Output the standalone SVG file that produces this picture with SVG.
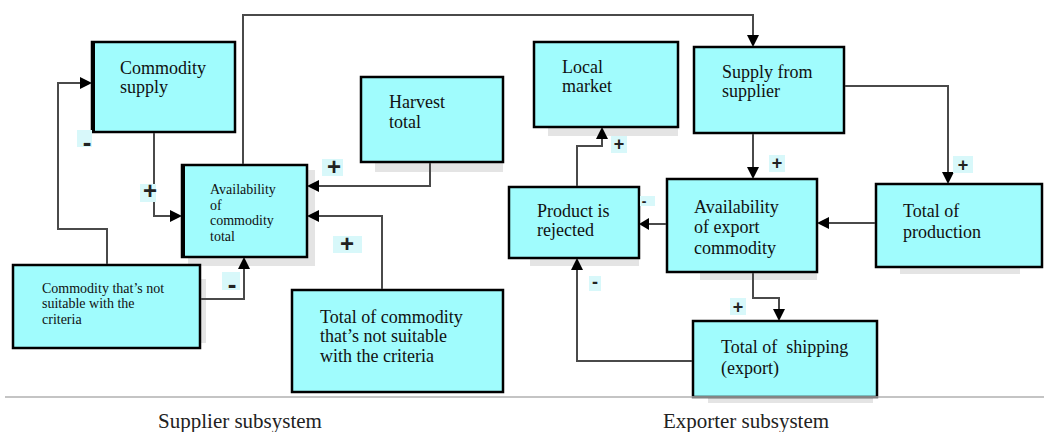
<svg xmlns="http://www.w3.org/2000/svg" width="1044" height="432" viewBox="0 0 1044 432">
  <style>
    .box { fill: #a0fcfd; stroke: #000; stroke-width: 2.5; }
    .shadow { fill: #e4e4e4; }
    .edge { fill: none; stroke: #4a4a4a; stroke-width: 2; }
    .head { fill: #000; stroke: none; }
    .sbg { fill: #d8f8fa; }
    .sign { font-weight: bold; fill: #222; text-anchor: middle; }
    .lg { font-size: 24px; }
    .md { font-size: 18px; }
    .dash { font-size: 26px; }
  </style>

  <rect width="1044" height="432" fill="#fff"/>

  <!-- nodes -->
  <g font-family="Liberation Serif, Times New Roman, serif" fill="#111">
  <!-- supplier subsystem -->
  <g id="commodity-supply" font-size="18">
    <rect class="box" x="92" y="42" width="143" height="90"/>
    <line x1="93" y1="42" x2="93" y2="132" stroke="#000" stroke-width="4"/>
    <text x="120" y="74">Commodity</text>
    <text x="120" y="93">supply</text>
  </g>

  <g id="availability-commodity-total" font-size="14">
    <rect class="shadow" x="188" y="257" width="125" height="9"/>
    <rect class="shadow" x="307" y="170" width="8" height="96"/>
    <rect class="box" x="182" y="165" width="125" height="92"/>
    <line x1="183" y1="165" x2="183" y2="257" stroke="#000" stroke-width="4"/>
    <text x="210" y="194">Availability</text>
    <text x="210" y="210">of</text>
    <text x="210" y="225">commodity</text>
    <text x="210" y="241">total</text>
  </g>

  <g id="harvest-total" font-size="18">
    <rect class="shadow" x="375" y="162" width="128" height="10"/>
    <rect class="box" x="361" y="77" width="142" height="85"/>
    <text x="389" y="108">Harvest</text>
    <text x="389" y="128">total</text>
  </g>

  <g id="commodity-not-suitable" font-size="14">
    <rect class="shadow" x="200" y="279" width="6" height="64"/>
    <rect class="box" x="13" y="265" width="187" height="83"/>
    <text x="42" y="293">Commodity that’s not</text>
    <text x="42" y="308">suitable with the</text>
    <text x="42" y="324">criteria</text>
  </g>

  <g id="total-commodity-not-suitable" font-size="18">
    <rect class="box" x="292" y="290" width="211" height="102"/>
    <text x="320" y="323">Total of commodity</text>
    <text x="320" y="342">that’s not suitable</text>
    <text x="320" y="362">with the criteria</text>
  </g>

  <!-- exporter subsystem -->
  <g id="local-market" font-size="18">
    <rect class="shadow" x="548" y="127" width="130" height="9"/>
    <rect class="box" x="534" y="42" width="144" height="85"/>
    <text x="562" y="73">Local</text>
    <text x="562" y="92">market</text>
  </g>

  <g id="supply-from-supplier" font-size="18">
    <rect class="box" x="694" y="47" width="150" height="86"/>
    <text x="722" y="78">Supply from</text>
    <text x="722" y="97">supplier</text>
  </g>

  <g id="product-rejected" font-size="18">
    <rect class="shadow" x="530" y="258" width="109" height="8"/>
    <rect class="box" x="509" y="187" width="130" height="71"/>
    <text x="537" y="217">Product is</text>
    <text x="537" y="236">rejected</text>
  </g>

  <g id="availability-export" font-size="18">
    <rect class="shadow" x="700" y="272" width="117" height="8"/>
    <rect class="box" x="667" y="179" width="150" height="93"/>
    <text x="694" y="213">Availability</text>
    <text x="694" y="233">of export</text>
    <text x="694" y="254">commodity</text>
  </g>

  <g id="total-production" font-size="18">
    <rect class="shadow" x="900" y="267" width="120" height="7"/>
    <rect class="box" x="876" y="184" width="166" height="83"/>
    <text x="903" y="217">Total of</text>
    <text x="903" y="238">production</text>
  </g>

  <g id="total-shipping" font-size="18">
    <rect class="shadow" x="708" y="397" width="165" height="6"/>
    <rect class="box" x="693" y="321" width="184" height="76"/>
    <text x="721" y="353" xml:space="preserve">Total of  shipping</text>
    <text x="721" y="374">(export)</text>
  </g>
  </g>

  <!-- connectors -->
  <g id="connectors">
    <path class="edge" d="M243,164 V15 H753 V40"/>
    <polygon class="head" points="753,47 747,35 759,35"/>
    <path class="edge" d="M154,133 V216 H175"/>
    <polygon class="head" points="182,216 170,210 170,222"/>
    <path class="edge" d="M107,264 V229 H58 V83 H85"/>
    <polygon class="head" points="92,83 80,77 80,89"/>
    <path class="edge" d="M430,163 V186 H314"/>
    <polygon class="head" points="307,186 319,180 319,192"/>
    <path class="edge" d="M382,289 V216 H314"/>
    <polygon class="head" points="307,216 319,210 319,222"/>
    <path class="edge" d="M201,299 H244 V264"/>
    <polygon class="head" points="244,257 238,269 250,269"/>
    <path class="edge" d="M753,134 V172"/>
    <polygon class="head" points="753,179 747,167 759,167"/>
    <path class="edge" d="M845,86 H948 V177"/>
    <polygon class="head" points="948,184 942,172 954,172"/>
    <path class="edge" d="M875,223 H824"/>
    <polygon class="head" points="817,223 829,217 829,229"/>
    <path class="edge" d="M666,224 H646"/>
    <polygon class="head" points="639,224 649,218 649,230"/>
    <path class="edge" d="M753,273 V298 H779 V314"/>
    <polygon class="head" points="779,321 773,309 785,309"/>
    <path class="edge" d="M692,361 H577 V265"/>
    <polygon class="head" points="577,258 571,270 583,270"/>
    <path class="edge" d="M577,186 V146 H602 V134"/>
    <polygon class="head" points="602,127 596,139 608,139"/>
  </g>

  <!-- polarity signs -->
  <g id="signs" font-family="Liberation Sans, Arial, sans-serif">
    <rect class="sbg" x="77" y="130" width="15" height="17"/><text class="sign dash" x="87" y="151">-</text>
    <rect class="sbg" x="140" y="184" width="16" height="18"/><text class="sign lg" x="150" y="199">+</text>
    <rect class="sbg" x="322" y="159" width="21" height="17"/><text class="sign lg" x="334" y="175">+</text>
    <rect class="sbg" x="333" y="236" width="29" height="17"/><text class="sign lg" x="347" y="252">+</text>
    <rect class="sbg" x="222" y="272" width="18" height="18"/><text class="sign dash" x="232" y="293">-</text>
    <rect class="sbg" x="611" y="136" width="16" height="17"/><text class="sign md" x="619" y="150">+</text>
    <rect class="sbg" x="769" y="155" width="16" height="17"/><text class="sign md" x="777" y="169">+</text>
    <rect class="sbg" x="953" y="156" width="20" height="17"/><text class="sign md" x="963" y="171">+</text>
    <rect class="sbg" x="640" y="196" width="15" height="10"/><text class="sign" x="644" y="206" font-size="14">-</text>
    <rect class="sbg" x="730" y="298" width="16" height="17"/><text class="sign md" x="738" y="313">+</text>
    <rect class="sbg" x="589" y="276" width="12" height="15"/><text class="sign md" x="595" y="288">-</text>
  </g>

  <!-- subsystem captions -->
  <line x1="5" y1="397" x2="1044" y2="397" stroke="#b0b0b0" stroke-width="1.5"/>
  <g font-family="Liberation Serif, Times New Roman, serif" font-size="21" fill="#222" text-anchor="middle">
    <text x="240" y="428">Supplier subsystem</text>
    <text x="746" y="428">Exporter subsystem</text>
  </g>
</svg>
